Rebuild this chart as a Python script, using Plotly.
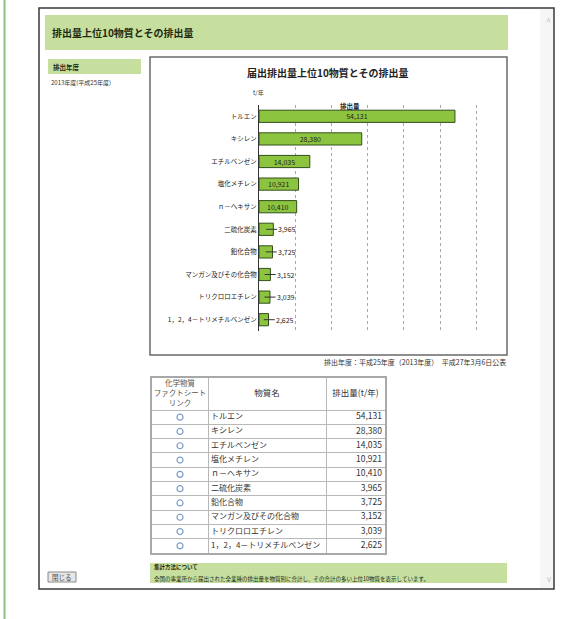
import plotly.graph_objects as go

# ---- data ----
substances = [
    "トルエン", "キシレン", "エチルベンゼン", "塩化メチレン", "ｎ－ヘキサン",
    "二硫化炭素", "鉛化合物", "マンガン及びその化合物", "トリクロロエチレン",
    "1，2，4－トリメチルベンゼン",
]
emissions = [54131, 28380, 14035, 10921, 10410, 3965, 3725, 3152, 3039, 2625]
table_headers = ["化学物質<br>ファクトシート<br>リンク", "物質名", "排出量(t/年)"]

W, H = 582, 619
FONT = "Noto Sans CJK JP"
GREEN = "#c6df9f"

# table geometry (pixels)
TBL_X0, TBL_X1 = 152, 385
TBL_TOP, HEAD_H, ROW_H = 378, 32, 14.3
COL_EDGES = [0, 56, 174, 233]          # column boundaries, px from table left
n_rows = len(substances)
head_units = HEAD_H / ROW_H


def X(px):
    return px / W


def Y(py):
    return 1 - py / H


def rect(x0, y0, x1, y1, fill=None, line=None, width=1, layer="below"):
    return dict(type="rect", xref="paper", yref="paper",
                x0=X(x0), x1=X(x1), y0=Y(y1), y1=Y(y0),
                fillcolor=fill or "rgba(0,0,0,0)",
                line=dict(color=line or "rgba(0,0,0,0)", width=width if line else 0),
                layer=layer)


def text(x, y, s, size=7, color="#222", anchor="left", bold=False):
    return dict(xref="paper", yref="paper", x=X(x), y=Y(y),
                text=f"<b>{s}</b>" if bold else s, showarrow=False,
                xanchor=anchor, yanchor="middle",
                font=dict(family=FONT, size=size, color=color))


fig = go.Figure()

# ---- horizontal bar chart ----
inside_text = [f"{v:,}" if v >= 10000 else "" for v in emissions]
fig.add_trace(go.Bar(
    x=emissions, y=substances, orientation="h", width=0.54,
    marker=dict(color="#8cc43f", line=dict(color="#33501c", width=1)),
    text=inside_text, textposition="inside", insidetextanchor="middle",
    constraintext="none",
    textfont=dict(family=FONT, size=7, color="#222"),
    cliponaxis=False, hoverinfo="skip", showlegend=False,
    xaxis="x", yaxis="y",
))

# ---- data table drawn on its own axes (x2: px across table, y2: row index) ----
rows = list(range(n_rows))
head_y = -0.5 - head_units / 2
fig.add_trace(go.Scatter(
    x=[(COL_EDGES[0] + COL_EDGES[1]) / 2] * n_rows, y=rows, mode="markers",
    marker=dict(symbol="circle-open", size=6, color="#7d9dcc", line=dict(width=1.2)),
    xaxis="x2", yaxis="y2", hoverinfo="skip", showlegend=False,
))
fig.add_trace(go.Scatter(
    x=[COL_EDGES[1] + 3] * n_rows, y=rows, mode="text",
    text=substances, textposition="middle right",
    textfont=dict(family=FONT, size=8, color="#333"),
    xaxis="x2", yaxis="y2", hoverinfo="skip", showlegend=False,
))
fig.add_trace(go.Scatter(
    x=[COL_EDGES[3] - 3] * n_rows, y=rows, mode="text",
    text=[f"{v:,}" for v in emissions], textposition="middle left",
    textfont=dict(family=FONT, size=8.5, color="#333"),
    xaxis="x2", yaxis="y2", hoverinfo="skip", showlegend=False,
))
fig.add_trace(go.Scatter(
    x=[(a + b) / 2 for a, b in zip(COL_EDGES[:-1], COL_EDGES[1:])],
    y=[head_y] * len(table_headers), mode="text",
    text=table_headers, textposition="middle center",
    textfont=dict(family=FONT, size=[7.5, 8.5, 8.5], color=["#555", "#333", "#333"]),
    xaxis="x2", yaxis="y2", hoverinfo="skip", showlegend=False,
))

# ---- page furniture ----
shapes = [
    dict(type="line", xref="paper", yref="paper", x0=X(4.5), x1=X(4.5), y0=0, y1=1,
         line=dict(color="#8dbf80", width=2), layer="below"),
    rect(39, 8, 554, 589, fill="white", line="#3a3a3a", width=1.5),     # popup window
    rect(540, 9, 553, 588, fill="#f6f6f6"),                             # scrollbar strip
    rect(45, 15, 508, 50, fill=GREEN),                                  # header band
    rect(48, 59, 141, 74, fill=GREEN),                                  # year band
    rect(150, 57, 507, 355, fill="white", line="#6a6a6a", width=1.5),   # chart frame
    rect(150, 563, 507, 583, fill=GREEN),                               # footer band
    rect(48, 572, 76, 582, fill="#e6e6e6", line="#8a8a8a", width=1),    # close button
]

annotations = [
    text(50, 32, "排出量上位10物質とその排出量", size=10, color="#1d2a10", bold=True),
    text(51, 66.5, "排出年度", size=6.5, color="#1d2a10", bold=True),
    text(49, 83, "2013年度(平成25年度)", size=6, color="#333"),
    text(328, 72, "届出排出量上位10物質とその排出量", size=10, color="#222", anchor="center", bold=True),
    text(258, 92, "t/年", size=6, color="#333", anchor="center"),
    text(350, 106, "排出量", size=6.5, color="#222", anchor="center", bold=True),
    text(508, 362, "排出年度：平成25年度（2013年度）　平成27年3月6日公表", size=7, color="#333", anchor="right"),
    text(152, 566.5, "集計方法について", size=5.5, color="#1d2a10", bold=True),
    text(152, 578.5, "全国の事業所から届出された全業種の排出量を物質別に合計し、その合計の多い上位10物質を表示しています。",
         size=5.5, color="#1d2a10"),
    text(62, 577, "閉じる", size=6.5, color="#444", anchor="center"),
    text(548, 22, "^", size=9, color="#bbbbbb", anchor="center"),
    text(549, 578, "v", size=8, color="#bbbbbb", anchor="center"),
]

# leader-line labels for the short bars
for name, v in zip(substances, emissions):
    if v < 10000:
        annotations.append(dict(
            x=v / 2, y=name, xref="x", yref="y",
            text=f"{v:,}", showarrow=True, arrowhead=0, arrowwidth=1,
            arrowcolor="#333", ax=11, ay=0, xanchor="left", standoff=0,
            borderpad=0,
            font=dict(family=FONT, size=7, color="#222"),
        ))

fig.update_layout(
    width=W, height=H,
    margin=dict(l=0, r=0, t=0, b=0),
    paper_bgcolor="white", plot_bgcolor="rgba(0,0,0,0)",
    shapes=shapes, annotations=annotations,
    font=dict(family=FONT),
    xaxis=dict(
        domain=[X(259), X(259 + 61 * 3.62)], range=[0, 61000],
        dtick=10000, showgrid=True, griddash="dot", gridcolor="#a8a8a8", gridwidth=1,
        zeroline=False, showticklabels=False, ticks="", showline=False, fixedrange=True,
    ),
    yaxis=dict(
        domain=[Y(331), Y(105)], type="category", autorange="reversed",
        showline=True, linecolor="#333", linewidth=1, ticks="", showgrid=False,
        tickfont=dict(family=FONT, size=6.5, color="#222"), fixedrange=True,
    ),
    xaxis2=dict(
        domain=[X(TBL_X0), X(TBL_X1)], range=[COL_EDGES[0], COL_EDGES[-1]],
        anchor="y2", tickmode="array", tickvals=COL_EDGES,
        showgrid=True, gridcolor="#b8b8b8", gridwidth=1,
        showline=True, mirror=True, linecolor="#a8a8a8", linewidth=1.5,
        zeroline=False, showticklabels=False, ticks="", fixedrange=True,
    ),
    yaxis2=dict(
        domain=[Y(TBL_TOP + HEAD_H + n_rows * ROW_H), Y(TBL_TOP)],
        range=[n_rows - 0.5, -0.5 - head_units], anchor="x2",
        tickmode="array", tickvals=[-0.5 - head_units] + [i - 0.5 for i in range(n_rows + 1)],
        showgrid=True, gridcolor="#b8b8b8", gridwidth=1,
        showline=True, mirror=True, linecolor="#a8a8a8", linewidth=1.5,
        zeroline=False, showticklabels=False, ticks="", fixedrange=True,
    ),
)

fig.write_html("out.html")
